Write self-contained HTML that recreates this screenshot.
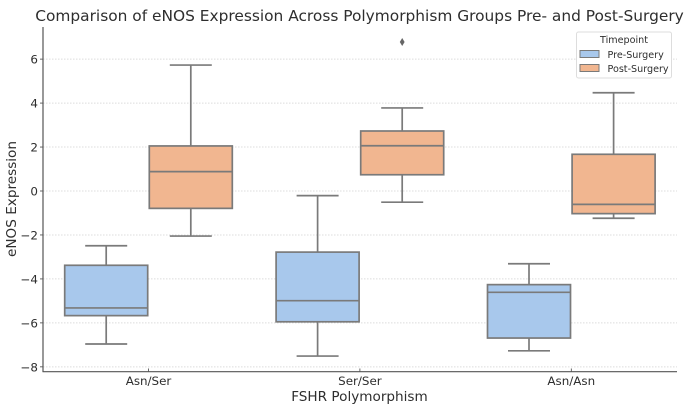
<!DOCTYPE html>
<html>
<head>
<meta charset="utf-8">
<style>
html,body{margin:0;padding:0;background:#fff;width:686px;height:406px;overflow:hidden}
svg{display:block;font-family:"DejaVu Sans","Liberation Sans",sans-serif;filter:blur(0.3px)}
</style>
</head>
<body>
<svg id="chart" width="686" height="406" viewBox="0 0 686 406"></svg>
<script>
const categories = ["Asn/Ser", "Ser/Ser", "Asn/Asn"];
const seriesNames = ["Pre-Surgery", "Post-Surgery"];
const yTicks = [-8, -6, -4, -2, 0, 2, 4, 6];
const preLow = [-6.96, -7.51, -7.27];
const preQ1 = [-5.67, -5.95, -6.69];
const preMedian = [-5.32, -4.99, -4.61];
const preQ3 = [-3.38, -2.78, -4.26];
const preHigh = [-2.49, -0.21, -3.31];
const postLow = [-2.05, -0.51, -1.24];
const postQ1 = [-0.79, 0.74, -1.03];
const postMedian = [0.88, 2.06, -0.61];
const postQ3 = [2.05, 2.73, 1.67];
const postHigh = [5.73, 3.78, 4.47];
const postOutliers = [[], [6.78], []];

const NS = "http://www.w3.org/2000/svg";
const svg = document.getElementById("chart");
const LINE = "#7a7a7a";
const TEXT = "#2e2e2e";
const COLORS = ["#a8c8ec", "#f1b690"];
const xFor = i => 148.5 + i * 211.4;
const yFor = v => 191 - v * 21.98;
const OFFSET = 42.3, BOX_W = 83, CAP_W = 42;

function add(tag, attrs, text, parent) {
  const el = document.createElementNS(NS, tag);
  for (const k in attrs) el.setAttribute(k, attrs[k]);
  if (text !== undefined) el.textContent = text;
  (parent || svg).appendChild(el);
  return el;
}

yTicks.forEach(t => {
  const grid = add("line", {x1: 43, x2: 677, y1: yFor(t), y2: yFor(t), stroke: "#dcdcdc", "stroke-width": 1, "stroke-dasharray": "1.5 1.5"});
  
  
  const tick = add("line", {x1: 40, x2: 43, y1: yFor(t), y2: yFor(t), stroke: "#444", "stroke-width": 0.8});
  
  
  const label = add("text", {x: 38, y: yFor(t) + 4.5, "text-anchor": "end", "font-size": 11.9, fill: TEXT}, (t < 0 ? "\u2212" + (-t) : String(t)));
  
  
});

function drawBox(cx, low, q1, med, q3, high, color, outliers) {
  const g = add("g", {});
  
  
  const s = {stroke: LINE, "stroke-width": 1.7};
  add("line", {x1: cx, x2: cx, y1: yFor(high), y2: yFor(q3), ...s}, undefined, g);
  add("line", {x1: cx, x2: cx, y1: yFor(q1), y2: yFor(low), ...s}, undefined, g);
  add("line", {x1: cx - CAP_W / 2, x2: cx + CAP_W / 2, y1: yFor(high), y2: yFor(high), ...s}, undefined, g);
  add("line", {x1: cx - CAP_W / 2, x2: cx + CAP_W / 2, y1: yFor(low), y2: yFor(low), ...s}, undefined, g);
  add("rect", {x: cx - BOX_W / 2, y: yFor(q3), width: BOX_W, height: yFor(q1) - yFor(q3), fill: color, ...s}, undefined, g);
  add("line", {x1: cx - BOX_W / 2, x2: cx + BOX_W / 2, y1: yFor(med), y2: yFor(med), ...s}, undefined, g);
  outliers.forEach(v => {
    const y = yFor(v);
    add("path", {d: `M${cx} ${y - 4}L${cx + 2.4} ${y}L${cx} ${y + 4}L${cx - 2.4} ${y}Z`, fill: "#666"}, undefined, g);
  });
}

categories.forEach((c, i) => {
  drawBox(xFor(i) - OFFSET, preLow[i], preQ1[i], preMedian[i], preQ3[i], preHigh[i], COLORS[0], []);
  drawBox(xFor(i) + OFFSET, postLow[i], postQ1[i], postMedian[i], postQ3[i], postHigh[i], COLORS[1], postOutliers[i]);
  const tick = add("line", {x1: xFor(i), x2: xFor(i), y1: 371.5, y2: 368.5, stroke: "#444", "stroke-width": 0.8});
  
  
  const label = add("text", {x: xFor(i), y: 385, "text-anchor": "middle", "font-size": 11.9, fill: TEXT}, c);
  
  
});

const axisY = add("line", {x1: 43, x2: 43, y1: 27, y2: 372, stroke: "#555", "stroke-width": 1.2});


const axisX = add("line", {x1: 42.5, x2: 677, y1: 371.7, y2: 371.7, stroke: "#555", "stroke-width": 1.2});



const title = add("text", {x: 359.5, y: 21, "text-anchor": "middle", "font-size": 15.4, fill: TEXT}, "Comparison of eNOS Expression Across Polymorphism Groups Pre- and Post-Surgery");


const xTitle = add("text", {x: 359.5, y: 401, "text-anchor": "middle", "font-size": 13.6, fill: TEXT}, "FSHR Polymorphism");


const yTitle = add("text", {x: 0, y: 0, transform: "translate(16 199) rotate(-90)", "text-anchor": "middle", "font-size": 13.6, fill: TEXT}, "eNOS Expression");



const legend = add("g", {});


add("rect", {x: 576.5, y: 32, width: 95, height: 46, rx: 2, fill: "#fff", stroke: "#ddd", "stroke-width": 1}, undefined, legend);
add("text", {x: 624, y: 43, "text-anchor": "middle", "font-size": 9.6, fill: TEXT}, "Timepoint", legend);
seriesNames.forEach((n, i) => {
  const y = 50.5 + i * 14;
  const swatch = add("rect", {x: 580, y: y, width: 19, height: 7, fill: COLORS[i], stroke: LINE, "stroke-width": 1}, undefined, legend);
  
  
  const text = add("text", {x: 607.5, y: y + 7.5, "font-size": 9.6, fill: TEXT}, n, legend);
  
  
});
</script>
</body>
</html>
